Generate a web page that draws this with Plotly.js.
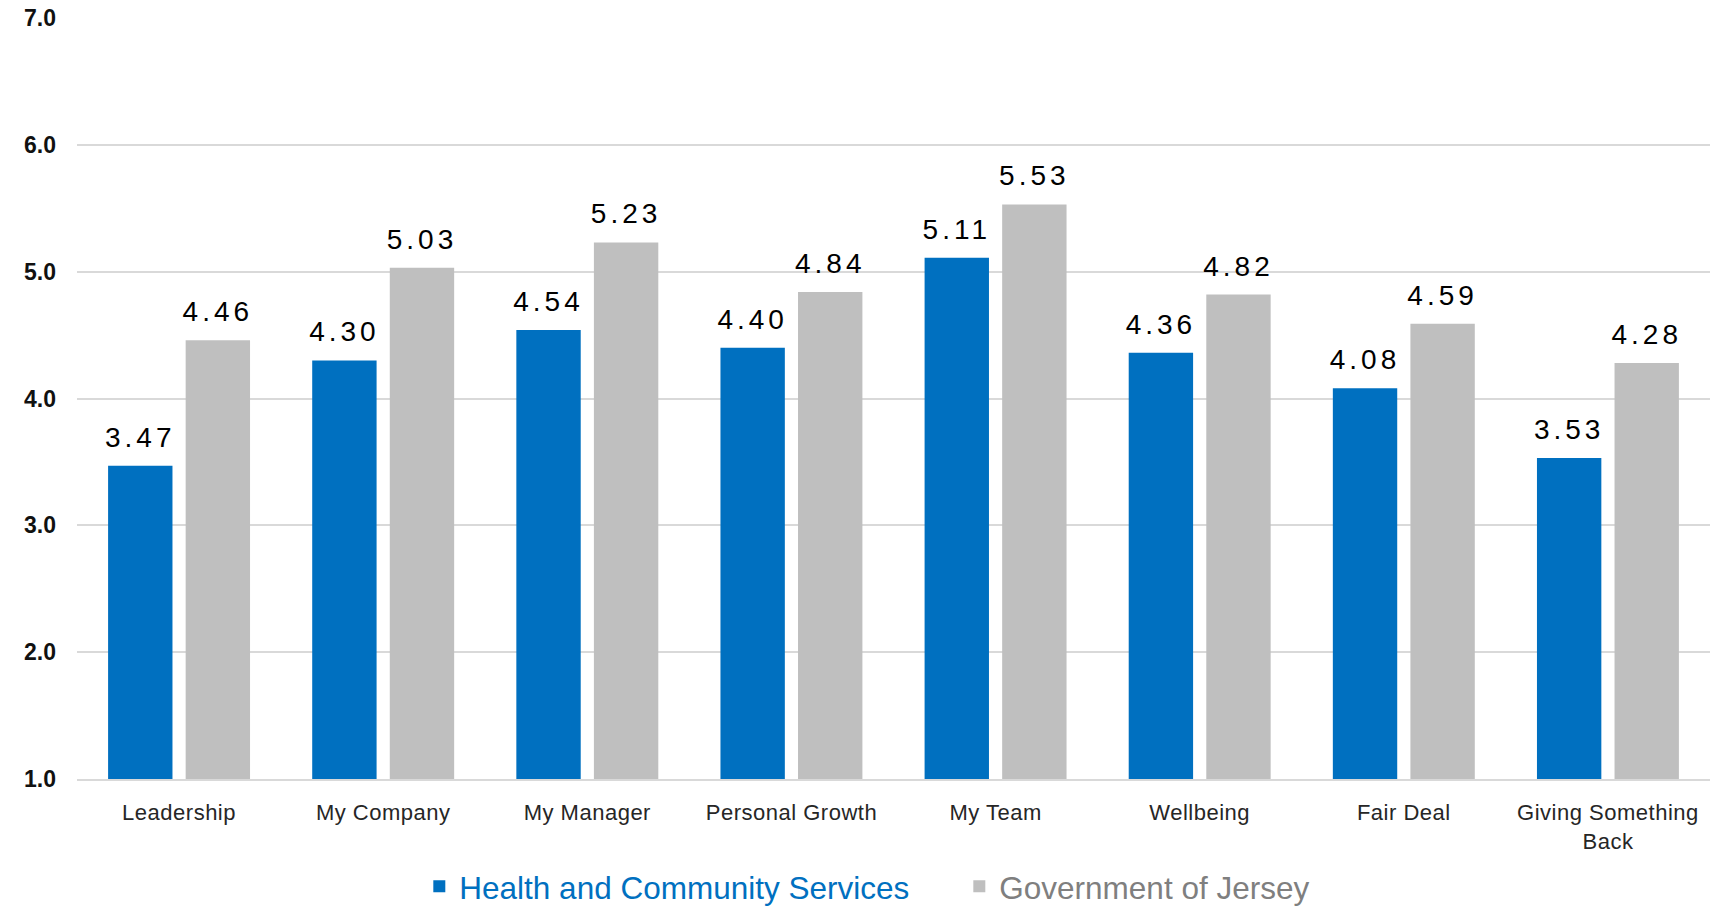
<!DOCTYPE html>
<html>
<head>
<meta charset="utf-8">
<script src="https://cdn.plot.ly/plotly-3.0.1.min.js"></script>
<style>
  html, body { margin: 0; padding: 0; background: #fff; }
  #chart { width: 1713px; height: 910px; }
  .textpoint text { letter-spacing: 4px; }
  .xtick text { letter-spacing: 0.5px; }
</style>
</head>
<body>
<div id="chart"></div>
<script>
const categories = ["Leadership", "My Company", "My Manager", "Personal Growth", "My Team", "Wellbeing", "Fair Deal", "Giving Something<br>Back"];
const healthValues = [3.47, 4.30, 4.54, 4.40, 5.11, 4.36, 4.08, 3.53];
const govValues = [4.46, 5.03, 5.23, 4.84, 5.53, 4.82, 4.59, 4.28];
const seriesNames = ["Health and Community Services", "Government of Jersey"];
const seriesColors = ["#0070C0", "#BFBFBF"];
const legendTextColors = ["#0070C0", "#7F7F7F"];
const yTicks = [1, 2, 3, 4, 5, 6, 7];

const seriesValues = [healthValues, govValues];
const groups = ["g1", "g2"];

const barTraces = seriesValues.map((vals, i) => ({
  type: "bar",
  x: categories,
  y: vals,
  offsetgroup: groups[i],
  name: "<span style='color:" + legendTextColors[i] + "'>" + seriesNames[i] + "</span>",
  marker: { color: seriesColors[i] },
  hoverinfo: "x+y"
}));

const labelTraces = seriesValues.map((vals, i) => ({
  type: "scatter",
  mode: "markers+text",
  x: categories,
  y: vals,
  offsetgroup: groups[i],
  showlegend: false,
  hoverinfo: "skip",
  cliponaxis: false,
  marker: { size: 17.6, opacity: 0, color: seriesColors[i] },
  text: vals.map(v => v.toFixed(2)),
  textposition: "top center",
  textfont: { family: "Liberation Sans, Arial, sans-serif", size: 28, color: "#000" }
}));

const layout = {
  width: 1713,
  height: 910,
  paper_bgcolor: "#fff",
  plot_bgcolor: "#fff",
  margin: { l: 77, r: 3, t: 18, b: 131 },
  barmode: "group",
  bargap: 0.24,
  bargroupgap: 0.17,
  scattermode: "group",
  scattergap: 0.24,
  showlegend: true,
  legend: {
    orientation: "h",
    x: 0.5403, xanchor: "center",
    yref: "container",
    y: 0.026, yanchor: "middle",
    font: { family: "Liberation Sans, Arial, sans-serif", size: 31.5 },
    entrywidth: 495,
    traceorder: "normal"
  },
  xaxis: {
    type: "category",
    showline: true,
    linecolor: "#D9D9D9",
    linewidth: 2,
    ticks: "",
    ticklabelstandoff: 13,
    tickfont: { family: "Liberation Sans, Arial, sans-serif", size: 22, color: "#262626" }
  },
  yaxis: {
    range: [1, 7],
    tickvals: yTicks,
    tickformat: ".1f",
    showgrid: true,
    gridcolor: "#D9D9D9",
    gridwidth: 2,
    zeroline: false,
    ticks: "",
    ticklabelstandoff: 20,
    tickfont: { family: "Liberation Sans, Arial, sans-serif", size: 23, color: "#111", weight: "bold" }
  }
};

Plotly.newPlot("chart", barTraces.concat(labelTraces), layout, { displayModeBar: false, responsive: false });
</script>
</body>
</html>
